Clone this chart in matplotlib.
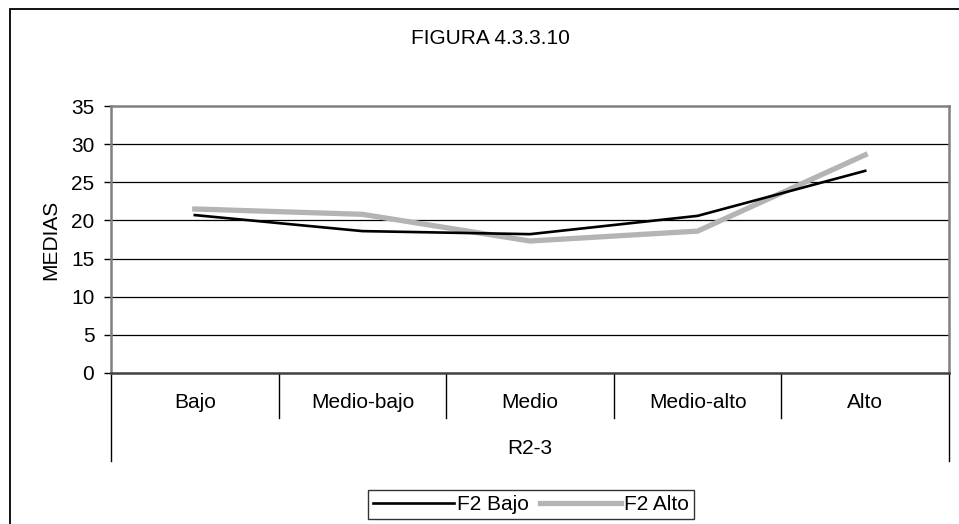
import matplotlib
matplotlib.use("Agg")
import matplotlib.pyplot as plt
from matplotlib.patches import Rectangle
from matplotlib.transforms import blended_transform_factory

plt.rcParams['font.family'] = ['Liberation Sans', 'DejaVu Sans']

categories = ["Bajo", "Medio-bajo", "Medio", "Medio-alto", "Alto"]
f2_bajo = [20.7, 18.6, 18.2, 20.6, 26.5]
f2_alto = [21.5, 20.8, 17.3, 18.6, 28.6]
y_ticks = [0, 5, 10, 15, 20, 25, 30, 35]
title = "FIGURA 4.3.3.10"
group_label = "R2-3"
y_label = "MEDIAS"

W, H = 959, 524
fig = plt.figure(figsize=(W / 100, H / 100), dpi=100)
FS = 15

# outer chart frame (runs off the right and bottom edges)
fig.patches.append(Rectangle((10 / W, -0.1), 1.2, 1.1 - 9 / H,
                             transform=fig.transFigure, fill=False,
                             edgecolor='black', linewidth=1.3))

left, right, top, bottom = 111, 949, 106, 373
ax = fig.add_axes([left / W, 1 - bottom / H, (right - left) / W, (bottom - top) / H])

n = len(categories)
xs = [i + 0.5 for i in range(n)]

for y in y_ticks[1:-1]:
    ax.axhline(y, color='black', linewidth=0.9, zorder=1)

ax.plot(xs, f2_bajo, color='black', linewidth=1.9, label='F2 Bajo', zorder=3,
        solid_joinstyle='round')
ax.plot(xs, f2_alto, color='#b4b4b4', linewidth=3.8, label='F2 Alto', zorder=2,
        solid_joinstyle='miter')

ax.set_xlim(0, n)
ax.set_ylim(0, 35)
ax.set_yticks(y_ticks)
ax.tick_params(axis='y', direction='out', length=5, width=1, labelsize=FS, pad=7)
ax.set_xticks([])
for s in ax.spines.values():
    s.set_color('#808080')
    s.set_linewidth(1.8)
ax.spines['bottom'].set_color('#404040')
ax.set_ylabel(y_label, fontsize=FS, labelpad=8)

# category axis: separators, labels and group label
tr = blended_transform_factory(ax.transData, ax.transAxes)
h = bottom - top
for i in range(1, n):
    ax.plot([i, i], [0, -45 / h], color='black', linewidth=1.0,
            transform=tr, clip_on=False)
for i in (0, n):
    ax.plot([i, i], [0, -88 / h], color='black', linewidth=1.0,
            transform=tr, clip_on=False)
for x, c in zip(xs, categories):
    ax.text(x, -30 / h, c, transform=tr, ha='center', va='center', fontsize=FS)
ax.text(n / 2, -75 / h, group_label, transform=tr, ha='center', va='center', fontsize=FS)

fig.text(490 / W, 1 - 38 / H, title, ha='center', va='center', fontsize=FS)

leg = fig.legend(loc='center', bbox_to_anchor=(531 / W, 1 - 504.5 / H), ncol=2,
                 frameon=True, fancybox=False, edgecolor='black', fontsize=FS,
                 handlelength=3.9, handletextpad=0.15, columnspacing=0.5,
                 borderpad=0.25, borderaxespad=0)
leg.get_frame().set_linewidth(1.0)

fig.savefig('out.png', dpi=100, facecolor='white')
